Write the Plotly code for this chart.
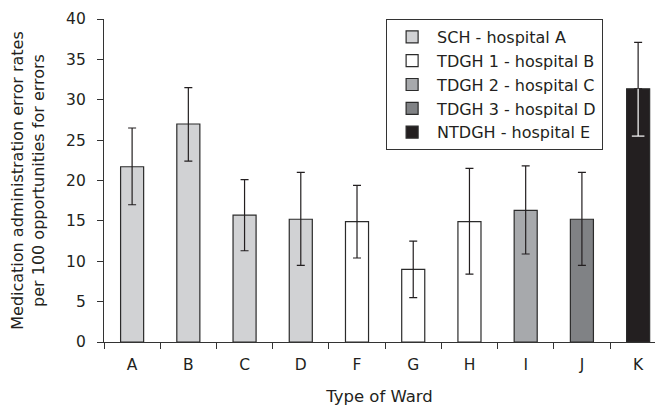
import plotly.graph_objects as go

wards = ["A", "B", "C", "D", "F", "G", "H", "I", "J", "K"]
rates = [21.7, 27.0, 15.7, 15.2, 14.9, 9.0, 14.9, 16.3, 15.2, 31.35]
ci_low = [17.0, 22.4, 11.3, 9.5, 10.4, 5.5, 8.4, 10.9, 9.5, 25.5]
ci_high = [26.5, 31.5, 20.1, 21.0, 19.4, 12.5, 21.5, 21.8, 21.0, 37.1]
hospital = ["SCH - hospital A"] * 4 + ["TDGH 1 - hospital B"] * 3 + \
           ["TDGH 2 - hospital C", "TDGH 3 - hospital D", "NTDGH - hospital E"]
groups = ["SCH - hospital A", "TDGH 1 - hospital B", "TDGH 2 - hospital C",
          "TDGH 3 - hospital D", "NTDGH - hospital E"]
colors = ["#d1d2d4", "#ffffff", "#a7a9ac", "#808285", "#231f20"]

FONT = "DejaVu Sans"
DARK = "#231f20"

fig = go.Figure()
for g, c in zip(groups, colors):
    idx = [i for i, h in enumerate(hospital) if h == g]
    xs = [wards[i] for i in idx]
    ys = [rates[i] for i in idx]
    up = [ci_high[i] - rates[i] for i in idx]
    dn = [rates[i] - ci_low[i] for i in idx]
    dark_fill = (c == DARK)
    fig.add_trace(go.Bar(
        x=xs, y=ys, name=g, width=0.41,
        marker=dict(color=c, line=dict(color="#2b2b2b", width=1.2)),
        error_y=dict(type="data", symmetric=False, array=up,
                     arrayminus=[0] * len(dn) if dark_fill else dn,
                     color=DARK, thickness=1.2, width=4),
    ))
    if dark_fill:
        # white part of the error bar drawn inside the dark bar
        fig.add_trace(go.Scatter(
            x=xs, y=[ci_low[i] for i in idx], mode="markers", showlegend=False,
            hoverinfo="skip",
            marker=dict(symbol="line-ew", size=9, color="white",
                        line=dict(color="white", width=1.2)),
            error_y=dict(type="data", symmetric=False, array=dn,
                         arrayminus=[0] * len(dn), color="white",
                         thickness=1.2, width=0),
        ))

fig.update_layout(
    width=655, height=406,
    margin=dict(l=104, r=0, t=19, b=64, autoexpand=False),
    paper_bgcolor="white", plot_bgcolor="white",
    barmode="overlay",
    font=dict(family=FONT, size=15, color=DARK),
    legend=dict(x=0.512, y=1.0, xanchor="left", yanchor="top",
                bgcolor="white", bordercolor="#333333", borderwidth=1,
                font=dict(family=FONT, size=16, color=DARK),
                itemwidth=40, traceorder="normal"),
    showlegend=True,
)
fig.update_xaxes(
    categoryorder="array", categoryarray=wards,
    range=[-0.5, 9.3], automargin=False,
    showline=True, linecolor="#333333", linewidth=1.2,
    ticks="outside", tickson="boundaries", ticklen=6, tickwidth=1.2,
    tickcolor="#333333", ticklabelstandoff=8,
    showgrid=False, zeroline=False,
    tickfont=dict(family=FONT, size=15.5, color=DARK),
    title=dict(text="Type of Ward", standoff=19,
               font=dict(family=FONT, size=16.5, color=DARK)),
)
fig.update_yaxes(
    range=[0, 40], dtick=5, tick0=0, automargin=False,
    showline=True, linecolor="#333333", linewidth=1.2,
    ticks="outside", ticklen=6, tickwidth=1.2, tickcolor="#333333",
    ticklabelstandoff=8,
    showgrid=False, zeroline=False,
    tickfont=dict(family=FONT, size=15.5, color=DARK),
    title=dict(text="Medication administration error rates<br>per 100 opportunities for errors",
               standoff=17, font=dict(family=FONT, size=16, color=DARK)),
)

fig.write_html("out.html", config={"displayModeBar": False},
               post_script="document.body.style.margin='0';")
